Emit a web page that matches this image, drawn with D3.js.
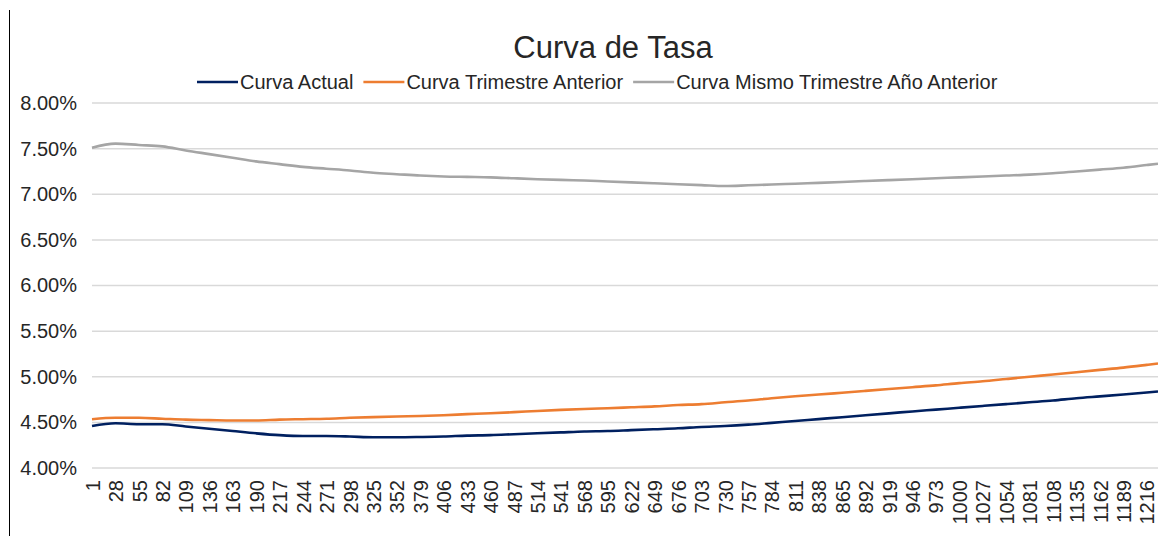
<!DOCTYPE html>
<html>
<head>
    <meta charset="utf-8" />
    <title>Curva de Tasa</title>
    <style>
        body { margin: 0; background: #ffffff; }
        text { font-family: 'Liberation Sans', Arial, sans-serif; fill: #262626; }
        .grid line { stroke: #d9d9d9; stroke-width: 1.5px; }
        .serie { fill: none; stroke-width: 2.6px; stroke-linejoin: round; }
    </style>
    <script src="https://cdn.jsdelivr.net/npm/d3@7"></script>
</head>
<body>
    <svg width="1158" height="536"></svg>

    <script>
        // plazo en dias (ultimo punto = extremo derecho de la curva)
        var days = [1, 28, 55, 82, 109, 136, 163, 190, 217, 244, 271, 298, 325, 352, 379, 406,
            433, 460, 487, 514, 541, 568, 595, 622, 649, 676, 703, 730, 757, 784, 811, 838,
            865, 892, 919, 946, 973, 1000, 1027, 1054, 1081, 1108, 1135, 1162, 1189, 1216, 1229];

        var xTickDays = [1, 28, 55, 82, 109, 136, 163, 190, 217, 244, 271, 298, 325, 352, 379, 406,
            433, 460, 487, 514, 541, 568, 595, 622, 649, 676, 703, 730, 757, 784, 811, 838,
            865, 892, 919, 946, 973, 1000, 1027, 1054, 1081, 1108, 1135, 1162, 1189, 1216];

        var yTicks = [4.0, 4.5, 5.0, 5.5, 6.0, 6.5, 7.0, 7.5, 8.0];

        var curvaActual = [4.46, 4.49, 4.48, 4.48, 4.455, 4.43, 4.405, 4.38, 4.36, 4.35, 4.35, 4.345,
            4.337, 4.337, 4.34, 4.345, 4.355, 4.36, 4.37, 4.38, 4.39, 4.40, 4.405, 4.415, 4.425,
            4.435, 4.45, 4.46, 4.475, 4.495, 4.515, 4.536, 4.557, 4.578, 4.599, 4.62, 4.64, 4.66,
            4.68, 4.70, 4.72, 4.74, 4.765, 4.785, 4.805, 4.828, 4.838];

        var curvaTrimAnterior = [4.535, 4.55, 4.55, 4.54, 4.53, 4.525, 4.52, 4.52, 4.53, 4.535, 4.54,
            4.55, 4.558, 4.565, 4.57, 4.578, 4.59, 4.60, 4.612, 4.625, 4.637, 4.647, 4.655, 4.665,
            4.675, 4.69, 4.70, 4.72, 4.74, 4.765, 4.787, 4.805, 4.825, 4.845, 4.865, 4.885, 4.905,
            4.93, 4.95, 4.975, 5.00, 5.025, 5.05, 5.075, 5.10, 5.13, 5.145];

        var curvaAnioAnterior = [7.51, 7.555, 7.54, 7.525, 7.48, 7.44, 7.40, 7.36, 7.33, 7.30, 7.28,
            7.26, 7.235, 7.22, 7.205, 7.195, 7.19, 7.185, 7.175, 7.165, 7.157, 7.15, 7.14, 7.13,
            7.12, 7.11, 7.10, 7.09, 7.098, 7.107, 7.115, 7.125, 7.135, 7.145, 7.155, 7.165, 7.175,
            7.185, 7.195, 7.205, 7.215, 7.23, 7.25, 7.27, 7.29, 7.32, 7.335];

        var series = [
            { name: 'Curva Actual', values: curvaActual, color: '#002060' },
            { name: 'Curva Trimestre Anterior', values: curvaTrimAnterior, color: '#ed7d31' },
            { name: 'Curva Mismo Trimestre Año Anterior', values: curvaAnioAnterior, color: '#a5a5a5' }
        ];

        var svg = d3.select('svg');

        var x = d3.scaleLinear()
            .domain([1, 1229])
            .range([92, 1158]);

        var y = d3.scaleLinear()
            .domain([4, 8])
            .range([468, 103]);

        // borde izquierdo
        svg.append('line')
            .attr('x1', 9.5).attr('x2', 9.5)
            .attr('y1', 10).attr('y2', 536)
            .attr('stroke', '#000').attr('stroke-width', 1);

        // titulo
        svg.append('text')
            .attr('x', 613)
            .attr('y', 58)
            .attr('text-anchor', 'middle')
            .style('font-size', '31px')
            .text('Curva de Tasa');

        // grilla horizontal
        svg.append('g')
            .attr('class', 'grid')
            .selectAll('line')
            .data(yTicks)
            .enter().append('line')
                .attr('x1', 92)
                .attr('x2', 1158)
                .attr('y1', function(d) { return y(d); })
                .attr('y2', function(d) { return y(d); });

        // eje y
        var yAxis = svg.append('g')
            .attr('transform', 'translate(80,0)')
            .call(d3.axisLeft(y)
                .tickValues(yTicks)
                .tickSize(0)
                .tickPadding(3)
                .tickFormat(function(d) { return d3.format('.2f')(d) + '%'; }));
        yAxis.select('.domain').remove();
        yAxis.selectAll('text')
            .style('font-size', '20px')
            .style('font-family', "'Liberation Sans', Arial, sans-serif")
            .attr('fill', '#262626');

        // eje x
        var xAxis = svg.append('g')
            .attr('transform', 'translate(0,' + 477 + ')')
            .call(d3.axisBottom(x)
                .tickValues(xTickDays)
                .tickSize(0)
                .tickFormat(d3.format('d')));
        xAxis.select('.domain').remove();
        xAxis.selectAll('text')
            .style('font-size', '20px')
            .style('font-family', "'Liberation Sans', Arial, sans-serif")
            .attr('fill', '#262626')
            .attr('text-anchor', 'end')
            .attr('transform', 'rotate(-90)')
            .attr('x', -3)
            .attr('y', 0)
            .attr('dy', '0.36em');

        // curvas
        var line = d3.line()
            .x(function(d, i) { return x(days[i]); })
            .y(function(d) { return y(d); })
            .curve(d3.curveMonotoneX);

        svg.append('g')
            .selectAll('path')
            .data(series)
            .enter().append('path')
                .attr('class', 'serie')
                .attr('stroke', function(d) { return d.color; })
                .attr('d', function(d) { return line(d.values); });

        // leyenda
        var legend = svg.append('g').attr('transform', 'translate(197,82)');
        var lx = 0;
        series.forEach(function(s) {
            var item = legend.append('g').attr('transform', 'translate(' + lx + ',0)');
            item.append('line')
                .attr('x1', 0).attr('x2', 41)
                .attr('stroke', s.color)
                .attr('stroke-width', 2.6);
            var t = item.append('text')
                .attr('x', 43)
                .attr('y', 7)
                .style('font-size', '20px')
                .text(s.name);
            lx += 43 + t.node().getComputedTextLength() + 10;
        });
    </script>
</body>
</html>
